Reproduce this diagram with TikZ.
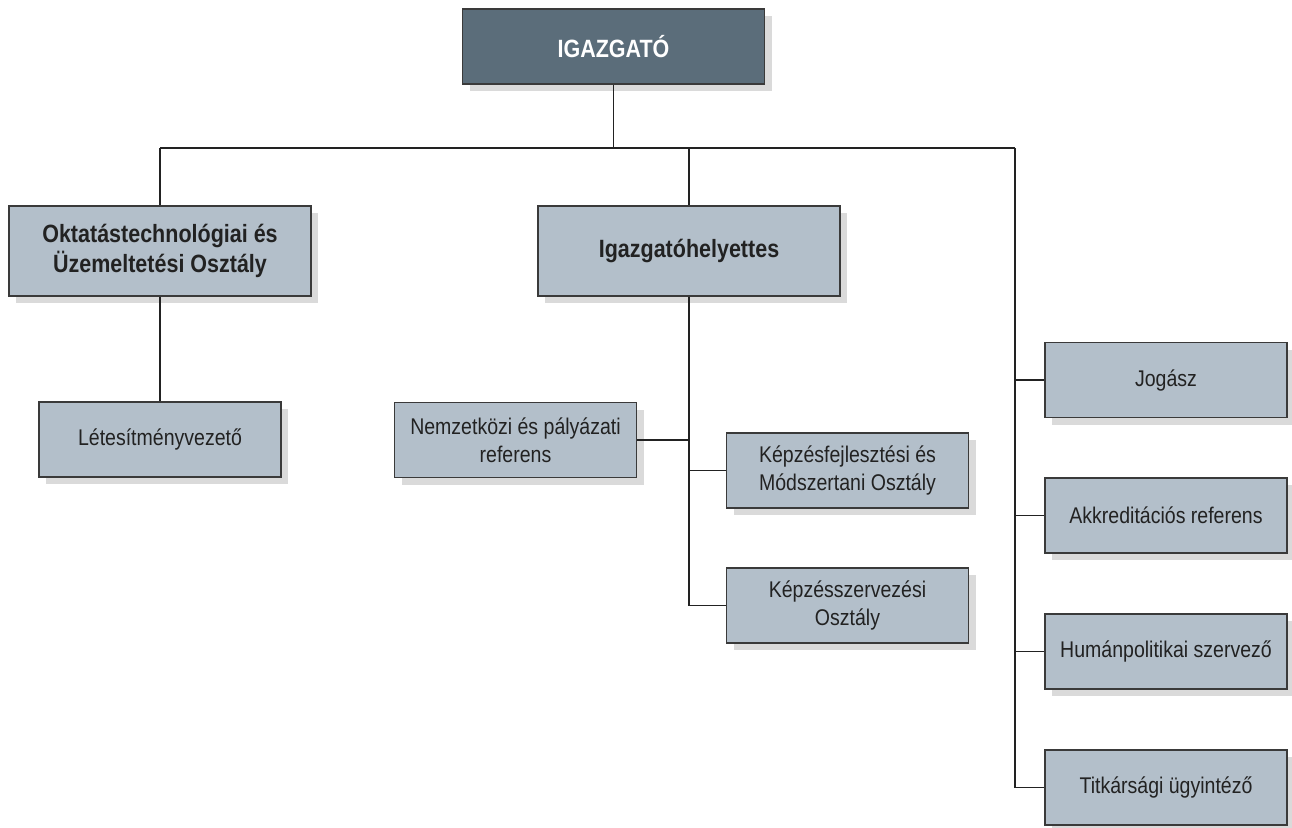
\documentclass[tikz,border=0pt]{standalone}
\usepackage{fontspec}
\setmainfont{Liberation Sans}[FakeStretch=0.86]
\usetikzlibrary{shadows}
\definecolor{topfill}{HTML}{5B6D7A}
\definecolor{boxfill}{HTML}{B3BFCA}
\definecolor{boxline}{HTML}{3A3A3A}
\definecolor{shadowgray}{HTML}{DADADA}
\definecolor{txt}{HTML}{222222}
\tikzset{
  orgbox/.style={draw=boxline, line width=1.1pt, fill=boxfill, text=txt,
    minimum width=242pt, minimum height=75pt, inner sep=0pt, align=center,
    font=\fontsize{22.7}{28}\selectfont,
    drop shadow={shadow xshift=7pt, shadow yshift=-7pt, fill=shadowgray, opacity=1}},
  bigbox/.style={orgbox, minimum width=302pt, minimum height=90pt, font=\fontsize{25}{30}\selectfont\bfseries},
  headbox/.style={bigbox, fill=topfill, text=white, minimum height=75pt},
  conn/.style={draw=txt, line width=1.1pt}
}
\begin{document}
\begin{tikzpicture}[x=1pt,y=-1pt]
\useasboundingbox (0,0) rectangle (1292,827);
\node[headbox] (top) at (613.5,46.5) {IGAZGATÓ};
\node[bigbox] (okt) at (160,251) {Oktatástechnológiai és\\Üzemeltetési Osztály};
\node[bigbox] (igh) at (689,251) {Igazgatóhelyettes};
\node[orgbox] (let) at (160,439.5) {Létesítményvezető};
\node[orgbox] (nem) at (515.5,440) {Nemzetközi és pályázati\\referens};
\node[orgbox] (kf) at (847.5,470.5) {Képzésfejlesztési és\\Módszertani Osztály};
\node[orgbox] (ksz) at (847.5,605.5) {Képzésszervezési\\Osztály};
\node[orgbox] (jog) at (1166,380) {Jogász};
\node[orgbox] (akk) at (1166,515.5) {Akkreditációs referens};
\node[orgbox] (hum) at (1166,651.5) {Humánpolitikai szervező};
\node[orgbox] (tit) at (1166,787.5) {Titkársági ügyintéző};
\coordinate (jL) at (160,148);
\coordinate (jR) at (1015,148);
\draw[conn] (jL) -- (jR);
\draw[conn] (top.south) -- (top.south |- jL);
\draw[conn] (jL) -- (okt.north);
\draw[conn] (igh.north |- jL) -- (igh.north);
\draw[conn] (jR) -- (jR |- tit.west) -- (tit.west);
\draw[conn] (jR |- jog.west) -- (jog.west);
\draw[conn] (jR |- akk.west) -- (akk.west);
\draw[conn] (jR |- hum.west) -- (hum.west);
\draw[conn] (okt.south) -- (let.north);
\draw[conn] (igh.south) -- (igh.south |- ksz.west) -- (ksz.west);
\draw[conn] (nem.east) -- (igh.south |- nem.east);
\draw[conn] (igh.south |- kf.west) -- (kf.west);
\end{tikzpicture}
\end{document}
